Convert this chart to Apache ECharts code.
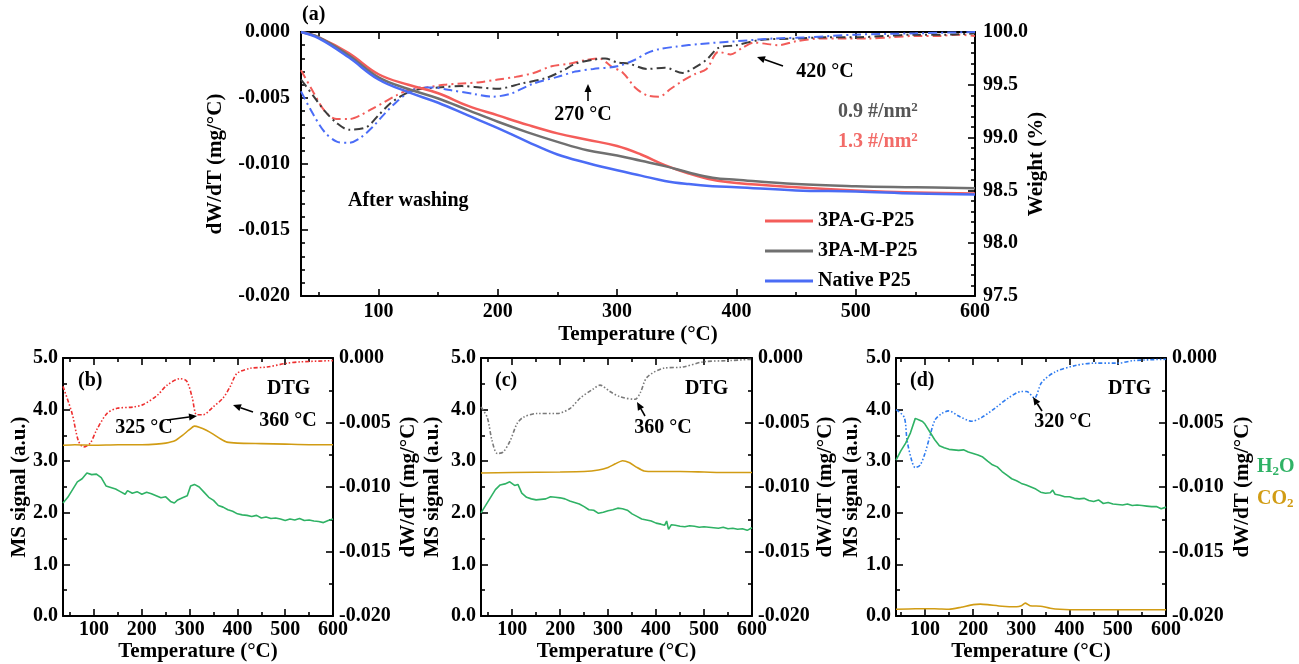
<!DOCTYPE html>
<html>
<head>
<meta charset="utf-8">
<script src="https://cdn.jsdelivr.net/npm/echarts@6/dist/echarts.min.js"></script>
<style>
  html, body { margin: 0; padding: 0; background: #fff; }
  #main { width: 1299px; height: 664px; }
</style>
</head>
<body>
<div id="main"></div>
<script>
// ---------- data (temperature °C, value) ----------
// panel (a): weight (%)
var wG = [[35,100.0],[50,99.95],[75,99.8],[100,99.6],[125,99.5],[150,99.42],[175,99.3],[200,99.21],[225,99.12],[250,99.04],[275,98.98],[300,98.92],[320,98.84],[340,98.74],[360,98.66],[380,98.6],[400,98.57],[450,98.53],[500,98.5],[550,98.48],[600,98.47]];
var wM = [[35,100.0],[50,99.95],[75,99.78],[100,99.57],[125,99.46],[150,99.37],[175,99.26],[200,99.15],[225,99.05],[250,98.96],[275,98.88],[300,98.83],[320,98.78],[340,98.73],[360,98.67],[380,98.62],[400,98.6],[450,98.56],[500,98.54],[550,98.53],[600,98.52]];
var wN = [[35,100.0],[50,99.94],[75,99.76],[100,99.55],[125,99.43],[150,99.33],[175,99.21],[200,99.09],[225,98.96],[250,98.84],[275,98.76],[300,98.69],[320,98.64],[340,98.59],[360,98.56],[380,98.54],[400,98.53],[450,98.5],[500,98.49],[550,98.47],[600,98.46]];
// panel (a): DTG (mg/°C)
var dG = [[35,-0.0029],[45,-0.0045],[55,-0.006],[65,-0.0066],[75,-0.0066],[85,-0.0063],[95,-0.0058],[105,-0.0053],[115,-0.0048],[125,-0.0044],[140,-0.0042],[155,-0.004],[170,-0.0039],[185,-0.0038],[200,-0.0036],[215,-0.0034],[230,-0.0031],[245,-0.0026],[260,-0.0024],[275,-0.0021],[285,-0.002],[295,-0.0026],[305,-0.0031],[315,-0.0042],[325,-0.0048],[335,-0.0049],[345,-0.0043],[355,-0.0037],[365,-0.0032],[375,-0.0028],[385,-0.0015],[395,-0.0017],[405,-0.0012],[415,-0.0008],[425,-0.0009],[435,-0.001],[450,-0.0007],[470,-0.0005],[490,-0.0005],[510,-0.0005],[530,-0.0004],[550,-0.0003],[570,-0.0003],[585,-0.0002],[600,-0.0003]];
var dM = [[35,-0.0036],[45,-0.0048],[55,-0.006],[65,-0.0069],[75,-0.0074],[90,-0.0072],[100,-0.0063],[110,-0.0054],[120,-0.0048],[130,-0.0044],[150,-0.0042],[170,-0.0041],[185,-0.0042],[200,-0.0043],[220,-0.0039],[240,-0.0035],[255,-0.0029],[265,-0.0024],[280,-0.0021],[290,-0.002],[300,-0.0023],[310,-0.0024],[325,-0.0028],[340,-0.0027],[355,-0.0031],[365,-0.0027],[375,-0.0021],[385,-0.0012],[400,-0.001],[420,-0.0006],[450,-0.0005],[475,-0.0004],[500,-0.0004],[525,-0.0003],[550,-0.0002],[575,-0.0002],[600,-0.0001]];
var dN = [[35,-0.0045],[45,-0.0062],[55,-0.0076],[65,-0.0083],[75,-0.0084],[85,-0.008],[95,-0.0072],[105,-0.0062],[115,-0.0053],[125,-0.0046],[135,-0.0042],[145,-0.0042],[160,-0.0044],[180,-0.0047],[195,-0.0049],[210,-0.0047],[230,-0.0039],[250,-0.0034],[265,-0.003],[280,-0.0028],[300,-0.0026],[315,-0.0021],[325,-0.0016],[335,-0.0013],[350,-0.0011],[370,-0.0009],[400,-0.0007],[430,-0.0005],[460,-0.0004],[500,-0.0002],[550,-0.0001],[600,0]];

// panel (b)
var bDTG = [[35,-0.0022],[54,-0.0043],[67,-0.0064],[78,-0.0069],[92,-0.0066],[105,-0.0056],[127,-0.0043],[148,-0.0039],[182,-0.0038],[203,-0.0036],[232,-0.0029],[253,-0.0021],[280,-0.0016],[294,-0.0018],[305,-0.003],[315,-0.0044],[328,-0.0044],[349,-0.0038],[370,-0.0031],[385,-0.0022],[399,-0.0012],[427,-0.0008],[462,-0.0007],[504,-0.0004],[531,-0.0003],[600,-0.0002]];
var bH2O = [[35,2.19],[45,2.3],[55,2.45],[65,2.6],[75,2.66],[85,2.77],[95,2.74],[105,2.75],[115,2.68],[125,2.52],[135,2.49],[145,2.46],[155,2.41],[165,2.36],[170,2.43],[180,2.38],[190,2.41],[200,2.36],[210,2.4],[220,2.37],[230,2.33],[240,2.29],[250,2.31],[260,2.22],[268,2.19],[275,2.25],[285,2.29],[295,2.33],[302,2.52],[310,2.55],[320,2.5],[330,2.4],[340,2.3],[350,2.24],[360,2.14],[370,2.11],[380,2.06],[390,2.03],[400,1.98],[410,1.96],[420,1.95],[430,1.93],[440,1.95],[450,1.9],[460,1.92],[470,1.89],[480,1.9],[490,1.88],[500,1.85],[510,1.88],[520,1.86],[530,1.89],[540,1.85],[550,1.86],[560,1.84],[570,1.83],[580,1.81],[590,1.85],[600,1.88]];
var bCO2 = [[35,3.31],[60,3.32],[100,3.31],[150,3.32],[200,3.32],[230,3.33],[250,3.35],[270,3.4],[285,3.5],[298,3.6],[310,3.68],[320,3.66],[335,3.6],[350,3.52],[365,3.43],[378,3.37],[400,3.35],[450,3.34],[500,3.33],[550,3.32],[600,3.32]];

// panel (c)
var cDTG = [[35,-0.0038],[48,-0.0046],[58,-0.0064],[69,-0.0074],[81,-0.0073],[96,-0.0064],[110,-0.0051],[123,-0.0046],[152,-0.0043],[194,-0.0043],[221,-0.0039],[242,-0.0031],[269,-0.0024],[283,-0.0021],[304,-0.0026],[325,-0.003],[356,-0.0032],[367,-0.0027],[381,-0.0015],[415,-0.0008],[456,-0.0007],[498,-0.0003],[554,-0.0002],[600,-0.0001]];
var cH2O = [[35,2.0],[45,2.15],[55,2.3],[65,2.45],[75,2.54],[85,2.56],[95,2.6],[105,2.53],[112,2.55],[120,2.38],[130,2.3],[140,2.27],[150,2.25],[160,2.26],[170,2.27],[180,2.31],[190,2.3],[200,2.29],[210,2.27],[220,2.23],[230,2.2],[240,2.17],[250,2.12],[260,2.06],[270,2.05],[280,1.99],[290,2.01],[300,2.04],[310,2.06],[320,2.09],[330,2.08],[340,2.05],[350,1.98],[360,1.93],[370,1.88],[380,1.86],[390,1.84],[400,1.8],[410,1.78],[418,1.76],[422,1.84],[426,1.68],[432,1.77],[440,1.76],[450,1.74],[460,1.73],[470,1.75],[480,1.74],[490,1.72],[500,1.73],[510,1.72],[520,1.71],[530,1.7],[540,1.72],[550,1.69],[560,1.7],[570,1.68],[580,1.69],[590,1.66],[600,1.71]];
var cCO2 = [[35,2.77],[100,2.78],[200,2.79],[250,2.8],[280,2.83],[300,2.88],[315,2.95],[330,3.01],[345,2.97],[360,2.88],[375,2.81],[400,2.8],[450,2.8],[500,2.79],[550,2.78],[600,2.78]];

// panel (d)
var eDTG = [[40,-0.004],[57,-0.0046],[63,-0.0064],[73,-0.008],[80,-0.0085],[90,-0.0083],[100,-0.0074],[110,-0.0061],[121,-0.0048],[135,-0.0043],[149,-0.0041],[170,-0.0045],[197,-0.0049],[218,-0.0046],[245,-0.0039],[273,-0.0031],[300,-0.0026],[311,-0.0026],[327,-0.0031],[342,-0.0019],[369,-0.0011],[410,-0.0006],[451,-0.0004],[500,-0.0004],[533,-0.0002],[600,-0.0001]];
var eH2O = [[40,3.02],[50,3.2],[60,3.35],[70,3.55],[80,3.83],[88,3.8],[95,3.77],[100,3.72],[110,3.57],[120,3.42],[130,3.3],[140,3.26],[150,3.23],[160,3.22],[170,3.21],[180,3.22],[190,3.18],[200,3.15],[210,3.12],[220,3.08],[230,3.0],[240,2.93],[250,2.89],[260,2.8],[270,2.73],[280,2.66],[290,2.62],[300,2.57],[310,2.54],[320,2.5],[330,2.46],[340,2.4],[350,2.38],[360,2.39],[365,2.44],[370,2.36],[380,2.34],[390,2.31],[400,2.31],[410,2.28],[420,2.27],[430,2.28],[440,2.24],[450,2.22],[460,2.25],[470,2.18],[480,2.2],[490,2.17],[500,2.16],[510,2.15],[520,2.17],[530,2.14],[540,2.15],[550,2.14],[560,2.13],[570,2.12],[580,2.12],[590,2.08],[600,2.11]];
var eCO2 = [[40,0.13],[80,0.14],[120,0.14],[150,0.13],[175,0.17],[200,0.22],[215,0.23],[230,0.22],[260,0.19],[290,0.18],[300,0.2],[308,0.25],[318,0.2],[340,0.19],[360,0.15],[380,0.13],[420,0.12],[500,0.12],[550,0.12],[600,0.12]];

var xMajor = [100, 200, 300, 400, 500, 600];
var xMinor = [50, 150, 250, 350, 450, 550];

// ---------- styling helpers ----------
var FONT = 'Liberation Serif';
var lab = { fontFamily: FONT, fontWeight: 'bold', fontSize: 20, color: '#000' };
var nameStyle = { fontFamily: FONT, fontWeight: 'bold', fontSize: 21, color: '#000' };
var axLine = { show: true, onZero: false, lineStyle: { color: '#000', width: 2 } };
var noLine = { show: false, onZero: false };
var majTick = { inside: true, length: 7, lineStyle: { color: '#000', width: 1.6 } };
var minTick = { show: true, length: 4, lineStyle: { color: '#000', width: 1.6 } };

var grids = [
  { left: 301, top: 32, width: 674, height: 264, outerBoundsMode: 'none', containLabel: false },
  { left: 63, top: 358, width: 270, height: 258, outerBoundsMode: 'none', containLabel: false },
  { left: 481, top: 358, width: 271, height: 258, outerBoundsMode: 'none', containLabel: false },
  { left: 896, top: 358, width: 270, height: 258, outerBoundsMode: 'none', containLabel: false }
];
var xMins = [35, 35, 35, 40];

var xAxes = [];
var yAxes = [];
grids.forEach(function (g, gi) {
  var base = { type: 'value', gridIndex: gi, min: xMins[gi], max: 600, splitLine: { show: false } };
  xAxes.push(Object.assign({}, base, {
    position: 'bottom', axisLine: axLine,
    axisTick: Object.assign({ customValues: xMajor }, majTick),
    axisLabel: Object.assign({ customValues: xMajor, margin: gi === 0 ? 6 : 4 }, lab),
    name: 'Temperature (°C)', nameLocation: 'middle', nameGap: gi === 0 ? 28 : 25,
    nameMoveOverlap: false, nameTextStyle: nameStyle
  }));
  xAxes.push(Object.assign({}, base, {
    position: 'bottom', axisLine: noLine,
    axisTick: { inside: true, length: 4, customValues: xMinor, lineStyle: { color: '#000', width: 1.6 } },
    axisLabel: { show: false }
  }));
  xAxes.push(Object.assign({}, base, {
    position: 'top', axisLine: axLine,
    axisTick: Object.assign({ customValues: xMajor }, majTick),
    axisLabel: { show: false }
  }));
  xAxes.push(Object.assign({}, base, {
    position: 'top', axisLine: noLine,
    axisTick: { inside: true, length: 4, customValues: xMinor, lineStyle: { color: '#000', width: 1.6 } },
    axisLabel: { show: false }
  }));
});

function dtgFmt(v) { return Math.abs(v) < 1e-9 ? '0.000' : v.toFixed(3); }
function oneDec(v) { return v.toFixed(1); }

// (a)
yAxes.push({
  type: 'value', gridIndex: 0, position: 'left', min: -0.02, max: 0, interval: 0.005,
  axisLine: axLine, splitLine: { show: false }, axisTick: majTick,
  minorTick: Object.assign({ splitNumber: 5 }, minTick),
  axisLabel: Object.assign({ formatter: dtgFmt, margin: 11 }, lab),
  name: 'dW/dT (mg/°C)', nameLocation: 'middle', nameRotate: 90, nameGap: 75,
  nameMoveOverlap: false, nameTextStyle: nameStyle
});
yAxes.push({
  type: 'value', gridIndex: 0, position: 'right', min: 97.5, max: 100, interval: 0.5,
  axisLine: axLine, splitLine: { show: false }, axisTick: majTick,
  minorTick: Object.assign({ splitNumber: 5 }, minTick),
  axisLabel: Object.assign({ formatter: oneDec, margin: 8 }, lab),
  name: 'Weight (%)', nameLocation: 'middle', nameRotate: 90, nameGap: 51,
  nameMoveOverlap: false, nameTextStyle: nameStyle
});
// (b) (c) (d)
var rGaps = [65, 63, 66];
var lGaps = [33, 38, 34];
[1, 2, 3].forEach(function (gi, k) {
  yAxes.push({
    type: 'value', gridIndex: gi, position: 'left', min: 0, max: 5, interval: 1,
    axisLine: axLine, splitLine: { show: false }, axisTick: majTick,
    minorTick: Object.assign({ splitNumber: 2 }, minTick),
    axisLabel: Object.assign({ formatter: oneDec, margin: 5 }, lab),
    name: 'MS signal (a.u.)', nameLocation: 'middle', nameRotate: 90, nameGap: lGaps[k],
    nameMoveOverlap: false, nameTextStyle: nameStyle
  });
  yAxes.push({
    type: 'value', gridIndex: gi, position: 'right', min: -0.02, max: 0, interval: 0.005,
    axisLine: axLine, splitLine: { show: false }, axisTick: majTick,
    minorTick: Object.assign({ splitNumber: 2 }, minTick),
    axisLabel: Object.assign({ formatter: dtgFmt, margin: 6 }, lab),
    name: 'dW/dT (mg/°C)', nameLocation: 'middle', nameRotate: 90, nameGap: rGaps[k],
    nameMoveOverlap: false, nameTextStyle: nameStyle
  });
});

var RED = '#f45d5a', GRAY = '#707070', BLUE = '#4b6cf5';
var RED_D = '#f25b58', GRAY_D = '#3c3c3c', BLUE_D = '#4a6cf7';
var GREEN = '#2fb265', ORANGE = '#d19c14';
var dashDot = [9, 4, 2, 4];
var dashDotDot = [4, 2, 1.5, 2, 1.5, 2];

function line(name, data, xi, yi, color, width, type, smooth, z) {
  return {
    name: name, type: 'line', data: data, xAxisIndex: xi, yAxisIndex: yi,
    showSymbol: false, symbol: 'none', smooth: smooth, z: z || 2,
    lineStyle: { color: color, width: width, type: type },
    itemStyle: { color: color }, silent: true
  };
}

var series = [
  line('dG', dG, 0, 0, RED_D, 2, dashDot, 0.3),
  line('dM', dM, 0, 0, GRAY_D, 2, dashDot, 0.3),
  line('dN', dN, 0, 0, BLUE_D, 2, dashDot, 0.3),
  line('3PA-G-P25', wG, 0, 1, RED, 2.5, 'solid', 0.4, 3),
  line('3PA-M-P25', wM, 0, 1, GRAY, 2.5, 'solid', 0.4, 3),
  line('Native P25', wN, 0, 1, BLUE, 2.5, 'solid', 0.4, 3),

  line('bDTG', bDTG, 4, 3, '#ee2f2f', 1.6, dashDotDot, 0.3),
  line('bCO2', bCO2, 4, 2, ORANGE, 1.6, 'solid', 0.2),
  line('bH2O', bH2O, 4, 2, GREEN, 1.6, 'solid', false),

  line('cDTG', cDTG, 8, 5, '#7a7a7a', 1.6, dashDotDot, 0.3),
  line('cCO2', cCO2, 8, 4, ORANGE, 1.6, 'solid', 0.2),
  line('cH2O', cH2O, 8, 4, GREEN, 1.6, 'solid', false),

  line('eDTG', eDTG, 12, 7, '#2f7cf0', 1.6, dashDotDot, 0.3),
  line('eCO2', eCO2, 12, 6, ORANGE, 1.6, 'solid', 0.2),
  line('eH2O', eH2O, 12, 6, GREEN, 1.6, 'solid', false)
];

// ---------- annotations ----------
function txt(x, y, s, opt) {
  opt = opt || {};
  return {
    type: 'text', x: x, y: y, silent: true, z: 100,
    style: {
      text: s, fontFamily: FONT, fontWeight: 'bold', fontSize: opt.size || 20,
      fill: opt.color || '#000', align: opt.align || 'left', verticalAlign: 'middle',
      rich: opt.rich
    }
  };
}
function arrow(x1, y1, x2, y2) {
  var a = Math.atan2(y2 - y1, x2 - x1), L = 8, W = 3.5;
  var bx = x2 - L * Math.cos(a), by = y2 - L * Math.sin(a);
  var px = -Math.sin(a) * W, py = Math.cos(a) * W;
  return [
    { type: 'line', silent: true, z: 100, shape: { x1: x1, y1: y1, x2: bx, y2: by }, style: { stroke: '#000', lineWidth: 1.6 } },
    { type: 'polygon', silent: true, z: 100, shape: { points: [[x2, y2], [bx + px, by + py], [bx - px, by - py]] }, style: { fill: '#000' } }
  ];
}
var supRich = {
  g: { fontFamily: FONT, fontWeight: 'bold', fontSize: 20, fill: '#555' },
  gs: { fontFamily: FONT, fontWeight: 'bold', fontSize: 13, fill: '#555', verticalAlign: 'top', padding: [0, 0, 8, 0] },
  r: { fontFamily: FONT, fontWeight: 'bold', fontSize: 20, fill: '#f26b68' },
  rs: { fontFamily: FONT, fontWeight: 'bold', fontSize: 13, fill: '#f26b68', verticalAlign: 'top', padding: [0, 0, 8, 0] }
};
var subRich = {
  h: { fontFamily: FONT, fontWeight: 'bold', fontSize: 20, fill: GREEN },
  hs: { fontFamily: FONT, fontWeight: 'bold', fontSize: 13, fill: GREEN, padding: [10, 0, 0, 0] },
  c: { fontFamily: FONT, fontWeight: 'bold', fontSize: 20, fill: ORANGE },
  cs: { fontFamily: FONT, fontWeight: 'bold', fontSize: 13, fill: ORANGE, padding: [10, 0, 0, 0] }
};

var graphics = [
  txt(302, 15, '(a)'),
  txt(348, 201, 'After washing'),
  txt(583, 115, '270 °C', { align: 'center' }),
  txt(825, 72, '420 °C', { align: 'center' }),
  txt(838, 112, '{g|0.9 #/nm}{gs|2}', { rich: supRich }),
  txt(838, 142, '{r|1.3 #/nm}{rs|2}', { rich: supRich }),

  txt(78, 381, '(b)'),
  txt(267, 389, 'DTG'),
  txt(144, 428, '325 °C', { align: 'center' }),
  txt(288, 421, '360 °C', { align: 'center' }),

  txt(495, 381, '(c)'),
  txt(685, 389, 'DTG'),
  txt(663, 428, '360 °C', { align: 'center' }),

  txt(910, 381, '(d)'),
  txt(1108, 389, 'DTG'),
  txt(1063, 422, '320 °C', { align: 'center' }),

  txt(1257, 467, '{h|H}{hs|2}{h|O}', { rich: subRich }),
  txt(1257, 499, '{c|CO}{cs|2}', { rich: subRich })
].concat(
  arrow(588, 101, 588, 84),
  arrow(783, 66, 757, 57),
  arrow(167, 420, 197, 416),
  arrow(253, 412, 233, 405),
  arrow(645, 416, 637, 402),
  arrow(1042, 411, 1033, 397)
);

var option = {
  backgroundColor: '#fff',
  animation: false,
  grid: grids,
  xAxis: xAxes,
  yAxis: yAxes,
  legend: {
    data: ['3PA-G-P25', '3PA-M-P25', 'Native P25'],
    orient: 'vertical', left: 760, top: 205,
    icon: 'rect', itemWidth: 48, itemHeight: 3, itemGap: 8,
    selectedMode: false,
    textStyle: { fontFamily: FONT, fontWeight: 'bold', fontSize: 20, color: '#000', lineHeight: 22 }
  },
  series: series,
  graphic: graphics
};

var chart = echarts.init(document.getElementById('main'), null, { renderer: 'canvas' });
chart.setOption(option);
</script>
</body>
</html>
